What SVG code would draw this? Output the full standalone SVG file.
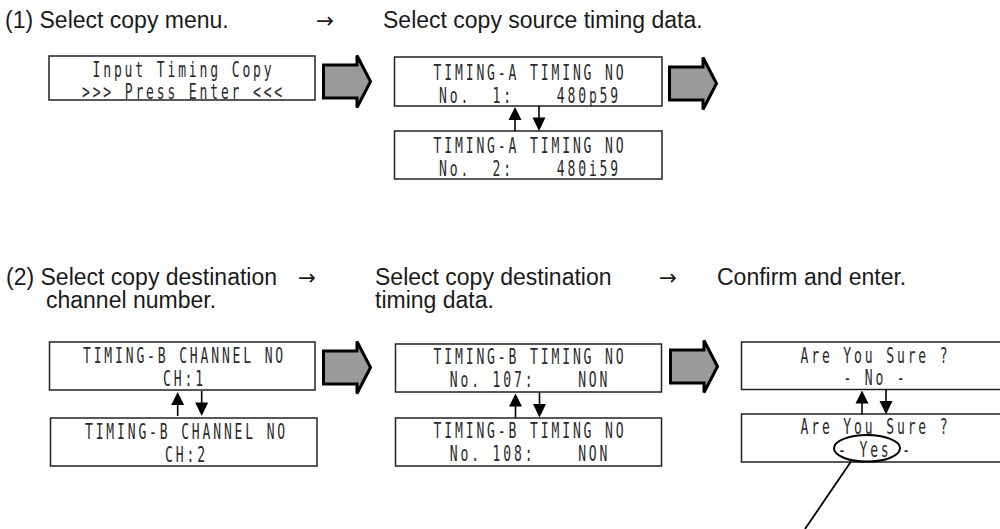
<svg xmlns="http://www.w3.org/2000/svg" width="1000" height="529" viewBox="0 0 1000 529">
  <style>
    .hdr { font-family: "Liberation Sans", Arial, sans-serif; font-size: 23px; fill: #1a1a1a; }
    .arr { font-family: "DejaVu Sans", sans-serif; font-size: 22px; fill: #1a1a1a; }
    .lcd { font-family: "DejaVu Sans Mono", "Liberation Mono", monospace; font-size: 21px; letter-spacing: 4.6px; fill: #2a2a2a; text-anchor: middle; white-space: pre; }
    .box { fill: #ffffff; stroke: #222; stroke-width: 1.5; }
    .big { fill: #9a9a9a; stroke: #000; stroke-width: 3; stroke-linejoin: miter; }
    .thin { stroke: #000; stroke-width: 1.6; fill: none; }
    .head { fill: #000; stroke: none; }
  </style>
  <defs>
    <path id="bigArrow" d="M1.5,11 L35,11 L35,1.5 L48.5,27.5 L35,53.5 L35,44 L1.5,44 Z"/>
    <g id="updown">
      <line x1="0" y1="25" x2="0" y2="13" class="thin"/>
      <polygon points="-6.5,14 6.5,14 0,1" class="head"/>
      <line x1="24" y1="0" x2="24" y2="12" class="thin"/>
      <polygon points="17.5,11.5 30.5,11.5 24,25" class="head"/>
    </g>
  </defs>

  <rect width="1000" height="529" fill="#ffffff"/>

  <!-- Headers -->
  <g id="headers">
    <text class="hdr" x="5" y="28">(1) Select copy menu.</text>
    <text class="arr" x="316" y="28" textLength="18" lengthAdjust="spacingAndGlyphs">→</text>
    <text class="hdr" x="383" y="28">Select copy source timing data.</text>
    <text class="hdr"><tspan x="6" y="285">(2) Select copy destination</tspan><tspan x="46" y="308">channel number.</tspan></text>
    <text class="arr" x="298" y="285" textLength="18" lengthAdjust="spacingAndGlyphs">→</text>
    <text class="hdr"><tspan x="375" y="285">Select copy destination</tspan><tspan x="375" y="308">timing data.</tspan></text>
    <text class="arr" x="659" y="285" textLength="18" lengthAdjust="spacingAndGlyphs">→</text>
    <text class="hdr" x="717" y="285">Confirm and enter.</text>
  </g>

  <!-- Nodes -->
  <g id="box1">
    <rect class="box" x="49" y="56" width="266" height="44"/>
    <text class="lcd" x="183.5" y="76.5" textLength="182" lengthAdjust="spacingAndGlyphs">Input Timing Copy</text>
    <text class="lcd" x="183.5" y="99" textLength="203" lengthAdjust="spacingAndGlyphs">&gt;&gt;&gt; Press Enter &lt;&lt;&lt;</text>
  </g>
  <g id="box2">
    <rect class="box" x="394.5" y="57" width="267.5" height="49"/>
    <text class="lcd" x="530" y="80" textLength="193" lengthAdjust="spacingAndGlyphs">TIMING-A TIMING NO</text>
    <text class="lcd" x="530" y="102.5" textLength="182" lengthAdjust="spacingAndGlyphs">No.  1:    480p59</text>
  </g>
  <g id="box3">
    <rect class="box" x="394.5" y="131" width="267.5" height="48"/>
    <text class="lcd" x="530" y="152.5" textLength="193" lengthAdjust="spacingAndGlyphs">TIMING-A TIMING NO</text>
    <text class="lcd" x="530" y="176" textLength="182" lengthAdjust="spacingAndGlyphs">No.  2:    480i59</text>
  </g>
  <g id="boxA">
    <rect class="box" x="49.5" y="342" width="265.5" height="48"/>
    <text class="lcd" x="184.5" y="362.5" textLength="203" lengthAdjust="spacingAndGlyphs">TIMING-B CHANNEL NO</text>
    <text class="lcd" x="184.5" y="386" textLength="43" lengthAdjust="spacingAndGlyphs">CH:1</text>
  </g>
  <g id="boxB">
    <rect class="box" x="50.5" y="418" width="266.5" height="48"/>
    <text class="lcd" x="186.5" y="438.5" textLength="203" lengthAdjust="spacingAndGlyphs">TIMING-B CHANNEL NO</text>
    <text class="lcd" x="186.5" y="461.7" textLength="43" lengthAdjust="spacingAndGlyphs">CH:2</text>
  </g>
  <g id="boxC">
    <rect class="box" x="395.5" y="344" width="266" height="48"/>
    <text class="lcd" x="530" y="363.5" textLength="193" lengthAdjust="spacingAndGlyphs">TIMING-B TIMING NO</text>
    <text class="lcd" x="530" y="387.3" textLength="160.5" lengthAdjust="spacingAndGlyphs">No. 107:    NON</text>
  </g>
  <g id="boxD">
    <rect class="box" x="395.5" y="418" width="266" height="48"/>
    <text class="lcd" x="530" y="437.5" textLength="193" lengthAdjust="spacingAndGlyphs">TIMING-B TIMING NO</text>
    <text class="lcd" x="530" y="460.7" textLength="160.5" lengthAdjust="spacingAndGlyphs">No. 108:    NON</text>
  </g>
  <g id="boxE">
    <rect class="box" x="741.5" y="342" width="265" height="47.5"/>
    <text class="lcd" x="875.5" y="362.7" textLength="150" lengthAdjust="spacingAndGlyphs">Are You Sure ?</text>
    <text class="lcd" x="875.5" y="385" textLength="64" lengthAdjust="spacingAndGlyphs">- No -</text>
  </g>
  <g id="boxF">
    <rect class="box" x="741.5" y="414" width="265" height="48"/>
    <text class="lcd" x="875.5" y="434" textLength="150" lengthAdjust="spacingAndGlyphs">Are You Sure ?</text>
    <text class="lcd" x="875.5" y="456.7" textLength="75" lengthAdjust="spacingAndGlyphs">- Yes -</text>
  </g>

  <!-- Connectors -->
  <g id="connectors">
    <use href="#bigArrow" class="big" transform="translate(322,54)"/>
    <use href="#bigArrow" class="big" transform="translate(668,56)"/>
    <use href="#bigArrow" class="big" transform="translate(322,340)"/>
    <use href="#bigArrow" class="big" transform="translate(669,339)"/>
    <use href="#updown" transform="translate(515,106)"/>
    <use href="#updown" transform="translate(177.7,391)"/>
    <use href="#updown" transform="translate(515.5,392.5)"/>
    <use href="#updown" transform="translate(862,389.5)"/>
    <ellipse cx="867" cy="448.3" rx="33" ry="13.3" fill="none" stroke="#000" stroke-width="2"/>
    <line x1="851" y1="461.5" x2="805" y2="529" stroke="#000" stroke-width="1.8"/>
  </g>
</svg>
